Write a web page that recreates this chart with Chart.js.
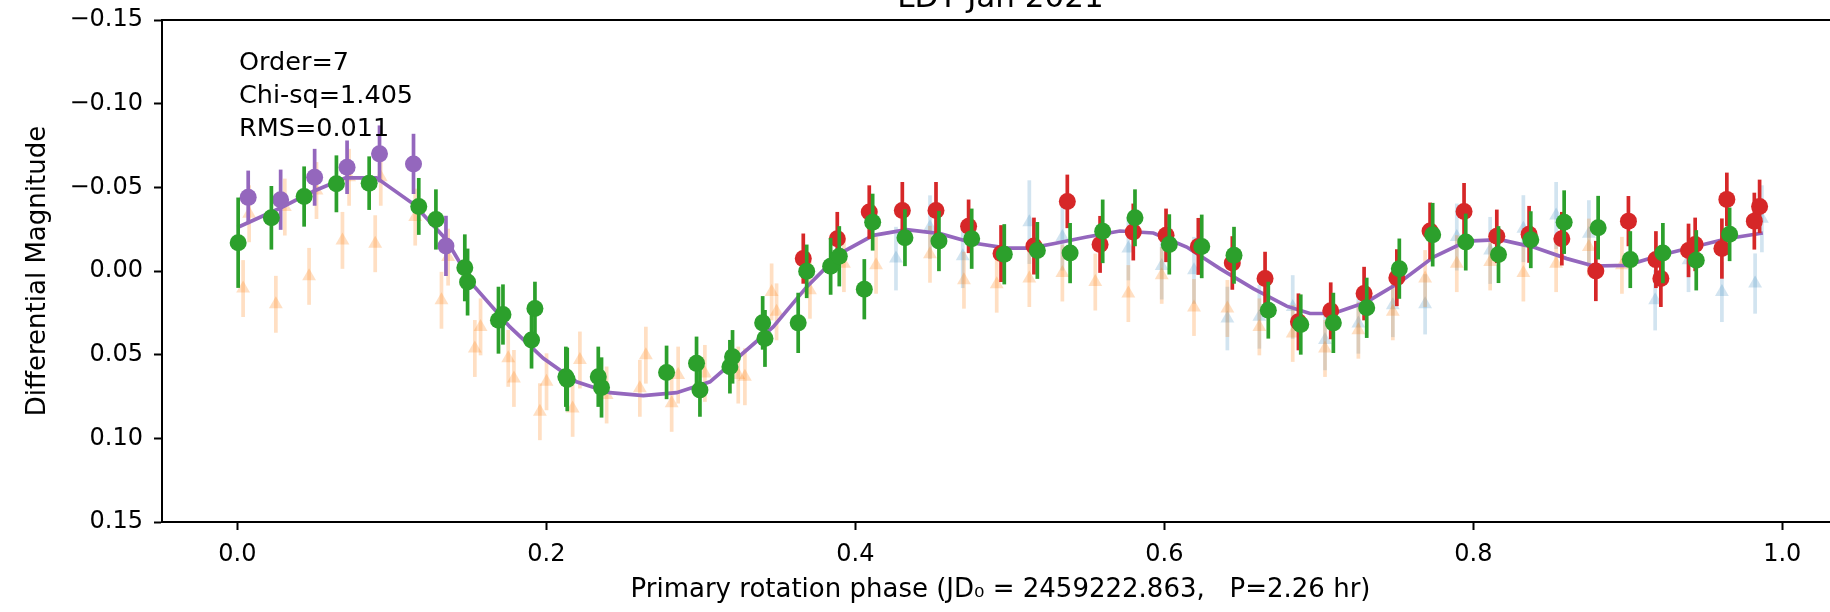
<!DOCTYPE html>
<html>
<head>
<meta charset="utf-8">
<script src="https://cdn.jsdelivr.net/npm/chart.js@4.4.1/dist/chart.umd.min.js"></script>
<style>
  html, body { margin: 0; padding: 0; background: #fff; overflow: hidden; width: 1830px; height: 612px; }
  #wrap { position: absolute; left: 0; top: -30px; width: 1880px; height: 642px; }
</style>
</head>
<body>
<div id="wrap"><canvas id="lc" width="1880" height="642"></canvas></div>
<script>
const titleText = 'LDT Jan 2021';
const xTitle = 'Primary rotation phase (JD\u2080 = 2459222.863,   P=2.26 hr)';
const yTitle = 'Differential Magnitude';
const fitInfo = ['Order=7', 'Chi-sq=1.405', 'RMS=0.011'];
const xTicks = [0.0, 0.2, 0.4, 0.6, 0.8, 1.0];
const yTicks = [-0.15, -0.10, -0.05, 0.00, 0.05, 0.10, 0.15];

// [phase, magnitude, error]
const bluePts = [
  [0.4263, -0.0074, 0.019], [0.4483, -0.0262, 0.019], [0.4695, -0.0088, 0.019], [0.5126, -0.0292, 0.025],
  [0.534, -0.0203, 0.02], [0.5767, -0.0134, 0.019], [0.5983, -0.003, 0.02], [0.6192, -0.0004, 0.02],
  [0.6408, 0.0284, 0.019], [0.6615, 0.0274, 0.019], [0.6831, 0.0215, 0.019], [0.704, 0.0413, 0.018],
  [0.7256, 0.0314, 0.018], [0.7479, 0.0205, 0.019], [0.7688, 0.0199, 0.018], [0.7893, -0.0203, 0.02],
  [0.8109, -0.0123, 0.02], [0.8324, -0.0253, 0.02], [0.8536, -0.0332, 0.02], [0.8748, -0.0223, 0.02],
  [0.9177, 0.0175, 0.018], [0.9393, -0.0064, 0.019], [0.9609, 0.0125, 0.018], [0.9824, 0.0075, 0.018],
  [0.9868, -0.0312, 0.02]
];
const orangePts = [
  [0.0037, 0.0105, 0.017], [0.0076, -0.0342, 0.017], [0.0249, 0.0199, 0.017], [0.0307, -0.0382, 0.017],
  [0.0464, 0.0032, 0.017], [0.0512, -0.0481, 0.017], [0.068, -0.0183, 0.017], [0.0723, -0.056, 0.017],
  [0.0892, -0.0163, 0.017], [0.0928, -0.056, 0.017], [0.1151, -0.0322, 0.017], [0.1321, 0.0175, 0.017],
  [0.1364, -0.0083, 0.017], [0.1537, 0.0463, 0.017], [0.1574, 0.0334, 0.017], [0.1753, 0.0522, 0.017],
  [0.179, 0.0642, 0.017], [0.1958, 0.0841, 0.017], [0.2001, 0.0662, 0.017], [0.217, 0.0821, 0.017],
  [0.2217, 0.0532, 0.017], [0.239, 0.0741, 0.017], [0.2605, 0.0701, 0.017], [0.2644, 0.0503, 0.017],
  [0.2811, 0.0791, 0.017], [0.2853, 0.0622, 0.017], [0.3026, 0.0612, 0.017], [0.3242, 0.0622, 0.017],
  [0.3285, 0.0632, 0.017], [0.3458, 0.0125, 0.017], [0.349, 0.0244, 0.017], [0.3706, 0.0115, 0.017],
  [0.3926, -0.0044, 0.017], [0.4134, -0.0034, 0.017], [0.4483, -0.01, 0.017], [0.4703, 0.0055, 0.017],
  [0.4915, 0.0079, 0.017], [0.5126, 0.0045, 0.017], [0.534, 0.0012, 0.017], [0.5553, 0.0066, 0.017],
  [0.5767, 0.0135, 0.017], [0.5983, 0.0026, 0.017], [0.6192, 0.0218, 0.017], [0.6408, 0.0224, 0.017],
  [0.6615, 0.0334, 0.017], [0.6831, 0.0373, 0.017], [0.704, 0.0463, 0.017], [0.7256, 0.0354, 0.017],
  [0.7479, 0.0244, 0.017], [0.7688, 0.0045, 0.017], [0.7893, -0.0044, 0.017], [0.8109, -0.0054, 0.017],
  [0.8324, 0.0012, 0.017], [0.8536, -0.0044, 0.017], [0.8748, -0.0143, 0.017], [0.8962, -0.0034, 0.017]
];
const purplePts = [
  [0.007, -0.044, 0.016], [0.028, -0.0426, 0.018], [0.050, -0.056, 0.017], [0.071, -0.062, 0.016],
  [0.092, -0.070, 0.017], [0.114, -0.064, 0.018], [0.135, -0.015, 0.018]
];
const redPts = [
  [0.3663, -0.0074, 0.015], [0.3883, -0.0193, 0.016], [0.409, -0.0352, 0.016], [0.4304, -0.0362, 0.017],
  [0.4522, -0.0362, 0.017], [0.4733, -0.0267, 0.016], [0.4943, -0.0104, 0.017], [0.5156, -0.0149, 0.017],
  [0.5372, -0.0416, 0.016], [0.5584, -0.0159, 0.017], [0.5799, -0.0233, 0.017], [0.6011, -0.0213, 0.016],
  [0.622, -0.0147, 0.017], [0.644, -0.0048, 0.016], [0.6652, 0.0045, 0.016], [0.6868, 0.0304, 0.017],
  [0.7077, 0.0238, 0.017], [0.7293, 0.0135, 0.016], [0.7505, 0.004, 0.017], [0.772, -0.0239, 0.017],
  [0.794, -0.0356, 0.017], [0.8152, -0.0207, 0.016], [0.8361, -0.0219, 0.017], [0.8573, -0.0193, 0.016],
  [0.8793, 0.0, 0.018], [0.9004, -0.0298, 0.015], [0.9182, -0.0068, 0.017], [0.9214, 0.0045, 0.017],
  [0.9393, -0.0123, 0.016], [0.9436, -0.0159, 0.016], [0.9609, -0.0134, 0.018], [0.9641, -0.0428, 0.016],
  [0.9819, -0.0298, 0.017], [0.9853, -0.0386, 0.016]
];
const greenPts = [
  [0.0005, -0.0169, 0.027], [0.022, -0.0318, 0.019], [0.0432, -0.0445, 0.018], [0.0641, -0.0521, 0.017],
  [0.0853, -0.0525, 0.016], [0.1174, -0.0386, 0.017], [0.1285, -0.0308, 0.018], [0.1472, -0.0019, 0.02],
  [0.149, 0.0066, 0.02], [0.169, 0.0294, 0.02], [0.1719, 0.026, 0.018], [0.1904, 0.0413, 0.017],
  [0.1926, 0.0224, 0.016], [0.2126, 0.0632, 0.018], [0.2135, 0.0648, 0.019], [0.2336, 0.0632, 0.018],
  [0.2357, 0.0696, 0.018], [0.2778, 0.0606, 0.016], [0.2972, 0.0552, 0.016], [0.2994, 0.0711, 0.016],
  [0.3188, 0.0572, 0.016], [0.3205, 0.0513, 0.016], [0.34, 0.031, 0.016], [0.3415, 0.0403, 0.017],
  [0.363, 0.031, 0.018], [0.3685, 0.0002, 0.016], [0.384, -0.0028, 0.017], [0.3896, -0.0088, 0.018],
  [0.4058, 0.0109, 0.018], [0.4112, -0.0292, 0.017], [0.4321, -0.0199, 0.017], [0.4541, -0.0179, 0.018],
  [0.4753, -0.0193, 0.018], [0.4964, -0.01, 0.018], [0.5178, -0.0123, 0.017], [0.539, -0.0107, 0.018],
  [0.5601, -0.0237, 0.019], [0.581, -0.0318, 0.017], [0.6032, -0.0159, 0.018], [0.6242, -0.0147, 0.019],
  [0.6451, -0.0094, 0.017], [0.6673, 0.0234, 0.017], [0.6883, 0.032, 0.018], [0.7094, 0.031, 0.018],
  [0.731, 0.022, 0.018], [0.7521, -0.0014, 0.018], [0.7737, -0.0217, 0.019], [0.7951, -0.0173, 0.017],
  [0.8163, -0.0098, 0.017], [0.8372, -0.0187, 0.017], [0.8588, -0.0292, 0.019], [0.8808, -0.0259, 0.019],
  [0.9016, -0.0068, 0.017], [0.9227, -0.0107, 0.018], [0.9443, -0.0064, 0.018], [0.9659, -0.0219, 0.016]
];
// Fourier fit curve [phase, magnitude]
const fitCurve = [
  [0.0, -0.026], [0.0275, -0.0375], [0.05, -0.048], [0.07, -0.0557], [0.09, -0.0557], [0.114, -0.040],
  [0.135, -0.019], [0.1526, 0.0085], [0.1764, 0.0334], [0.198, 0.0522], [0.2195, 0.0662], [0.2411, 0.0727],
  [0.2627, 0.0745], [0.2843, 0.0727], [0.3059, 0.0662], [0.3274, 0.049], [0.3468, 0.0334], [0.3685, 0.0095],
  [0.39, -0.0104], [0.4116, -0.0213], [0.4332, -0.0247], [0.4548, -0.0223], [0.4763, -0.0167], [0.498, -0.0137],
  [0.513, -0.0137], [0.5281, -0.0163], [0.5497, -0.0203], [0.5713, -0.0239], [0.5929, -0.0227], [0.6145, -0.0143],
  [0.636, -0.0014], [0.6576, 0.0105], [0.6792, 0.021], [0.6943, 0.0254], [0.7094, 0.0254], [0.731, 0.0185],
  [0.7526, 0.0066], [0.7742, -0.0083], [0.7958, -0.0179], [0.8174, -0.0187], [0.8389, -0.0143], [0.8605, -0.0074],
  [0.8778, -0.003], [0.8994, -0.0034], [0.921, -0.0094], [0.9425, -0.0143], [0.9641, -0.0193], [0.9874, -0.0227]
];

const FONT = 'DejaVu Sans';
const toPts = arr => arr.map(p => ({ x: p[0], y: p[1], err: p[2] }));

// vertical error bars, drawn just under each dataset's markers
const errorBars = {
  id: 'errorBars',
  beforeDatasetDraw(chart, args) {
    const ds = chart.data.datasets[args.index];
    if (!ds.errColor) return;
    const { ctx, chartArea: a } = chart;
    const xs = chart.scales.x, ys = chart.scales.y;
    ctx.save();
    ctx.beginPath();
    ctx.rect(a.left, a.top, a.right - a.left, a.bottom - a.top);
    ctx.clip();
    ctx.strokeStyle = ds.errColor;
    ctx.lineWidth = 3.7;
    ds.data.forEach(p => {
      const px = xs.getPixelForValue(p.x);
      ctx.beginPath();
      ctx.moveTo(px, ys.getPixelForValue(p.y - p.err));
      ctx.lineTo(px, ys.getPixelForValue(p.y + p.err));
      ctx.stroke();
    });
    ctx.restore();
  }
};

// top/right spines, title and fit stats text
const decorations = {
  id: 'decorations',
  afterDraw(chart) {
    const { ctx, chartArea: a } = chart;
    ctx.save();
    ctx.strokeStyle = '#000';
    ctx.lineWidth = 2;
    ctx.beginPath();
    ctx.moveTo(a.left - 1, a.top);
    ctx.lineTo(a.right, a.top);
    ctx.lineTo(a.right, a.bottom);
    ctx.stroke();

    ctx.fillStyle = '#000';
    ctx.textBaseline = 'alphabetic';
    ctx.textAlign = 'center';
    ctx.font = '31px "' + FONT + '"';
    ctx.fillText(titleText, (a.left + a.right) / 2, a.top - 13);

    ctx.textAlign = 'left';
    ctx.font = '25.5px "' + FONT + '"';
    const tx = a.left + 77;
    fitInfo.forEach((t, i) => ctx.fillText(t, tx, a.top + 50 + i * 33));
    ctx.restore();
  }
};

const tickFont = { family: FONT, size: 24 };
const labelFont = { family: FONT, size: 26 };

new Chart(document.getElementById('lc'), {
  type: 'scatter',
  data: {
    datasets: [
      {
        data: toPts(bluePts), order: 6,
        pointStyle: 'triangle', pointRadius: 8, pointBorderWidth: 0,
        backgroundColor: 'rgba(31,119,180,0.2)', errColor: 'rgba(31,119,180,0.2)'
      },
      {
        data: toPts(orangePts), order: 5,
        pointStyle: 'triangle', pointRadius: 8, pointBorderWidth: 0,
        backgroundColor: 'rgba(255,127,14,0.25)', errColor: 'rgba(255,127,14,0.25)'
      },
      {
        data: fitCurve.map(p => ({ x: p[0], y: p[1] })), order: 4,
        showLine: true, pointRadius: 0, borderColor: '#9467bd', borderWidth: 3.7, tension: 0
      },
      {
        data: toPts(purplePts), order: 3,
        pointRadius: 8.5, pointBorderWidth: 0,
        backgroundColor: '#9467bd', errColor: '#9467bd'
      },
      {
        data: toPts(redPts), order: 2,
        pointRadius: 8.5, pointBorderWidth: 0,
        backgroundColor: '#d62728', errColor: '#d62728'
      },
      {
        data: toPts(greenPts), order: 1,
        pointRadius: 8.5, pointBorderWidth: 0,
        backgroundColor: '#2ca02c', errColor: '#2ca02c'
      }
    ]
  },
  options: {
    responsive: false,
    animation: false,
    events: [],
    layout: { padding: { top: 50, right: 41, left: 0, bottom: 0 } },
    plugins: {
      legend: { display: false },
      tooltip: { enabled: false },
      title: { display: false }
    },
    scales: {
      x: {
        type: 'linear',
        min: -0.0488,
        max: 1.0367,
        afterBuildTicks: s => { s.ticks = xTicks.map(v => ({ value: v })); },
        afterFit: s => { s.height = 90; },
        ticks: {
          color: '#000', font: tickFont, padding: 10, maxRotation: 0,
          callback: v => v.toFixed(1)
        },
        grid: { drawOnChartArea: false, drawTicks: true, tickLength: 8, tickWidth: 2, tickColor: '#000' },
        border: { display: true, color: '#000', width: 2 },
        title: { display: true, text: xTitle, color: '#000', font: labelFont, padding: { top: 0, bottom: 6 } }
      },
      y: {
        type: 'linear',
        reverse: true,
        min: -0.15,
        max: 0.15,
        afterBuildTicks: s => { s.ticks = yTicks.map(v => ({ value: v })); },
        afterFit: s => { s.width = 162; },
        ticks: {
          color: '#000', font: tickFont, padding: 11,
          callback: v => (v < -1e-9 ? '\u2212' : '') + Math.abs(v).toFixed(2)
        },
        grid: { drawOnChartArea: false, drawTicks: true, tickLength: 8, tickWidth: 2, tickColor: '#000' },
        border: { display: true, color: '#000', width: 2 },
        title: { display: true, text: yTitle, color: '#000', font: labelFont, padding: { top: 23, bottom: 0 } }
      }
    }
  },
  plugins: [errorBars, decorations]
});
</script>
</body>
</html>
